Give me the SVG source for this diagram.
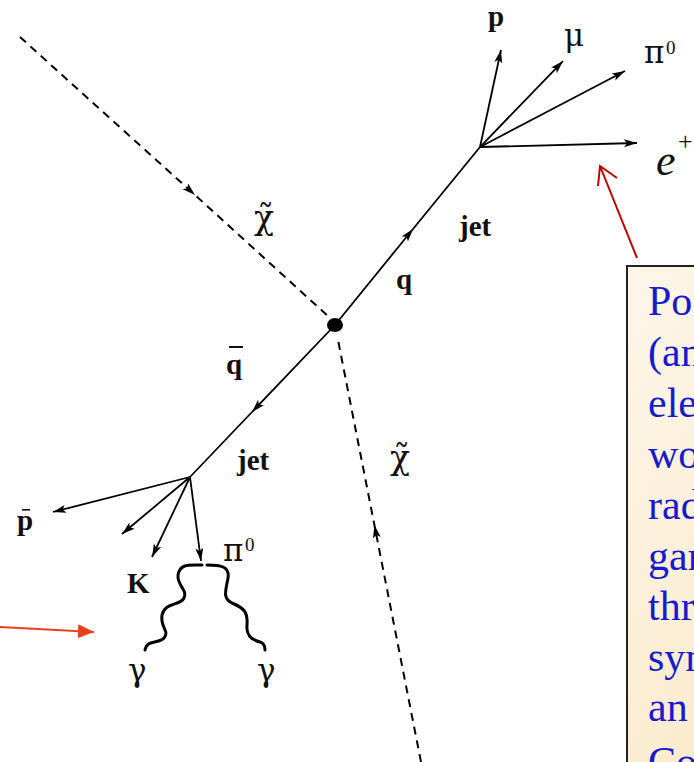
<svg xmlns="http://www.w3.org/2000/svg" width="694" height="762" viewBox="0 0 694 762">
<defs>
<marker id="ah" markerUnits="userSpaceOnUse" markerWidth="14" markerHeight="10" refX="13" refY="4" orient="auto">
<path d="M0,0 L13,4 L0,8 L3,4 z" fill="#000"/>
</marker>
<marker id="ahr" markerUnits="userSpaceOnUse" markerWidth="18" markerHeight="16" refX="16" refY="7" orient="auto">
<path d="M0,0 L16,7 L0,14 z" fill="#e8401c"/>
</marker>
<linearGradient id="bg" x1="0" y1="0" x2="0.3" y2="1">
<stop offset="0" stop-color="#fdf6ea"/>
<stop offset="1" stop-color="#fbeccf"/>
</linearGradient>
<clipPath id="cv"><rect x="0" y="0" width="694" height="762"/></clipPath>
</defs>
<style>
.ln{stroke:#000;stroke-width:1.8;fill:none}
.ds{stroke:#000;stroke-width:2;fill:none;stroke-dasharray:8 6}
.wv{stroke:#000;stroke-width:3;fill:none;stroke-linecap:round}
.lb{font-family:"Liberation Serif",serif;font-size:29px;fill:#111}
.gk{font-family:"DejaVu Serif",serif;font-size:31px;fill:#111}
.bd{font-weight:bold}
.bx{font-family:"Liberation Serif",serif;font-size:42px;fill:#1a1acd}
</style>
<rect width="694" height="762" fill="#fff"/>
<g id="connectors">
<path class="ds" d="M20,37 L195,195 L329,317" marker-mid="url(#ah)"/>
<path class="ds" d="M421,762 L374.4,525 L338,340" marker-mid="url(#ah)"/>
<path class="ln" d="M335,325 L413,229 L480,147" marker-mid="url(#ah)"/>
<path class="ln" d="M335,325 L252,412 L190,477" marker-mid="url(#ah)"/>
<path class="ln" d="M480,147 L501,50" marker-end="url(#ah)"/>
<path class="ln" d="M480,147 L563,61" marker-end="url(#ah)"/>
<path class="ln" d="M480,147 L625,71" marker-end="url(#ah)"/>
<path class="ln" d="M480,147 L637,143" marker-end="url(#ah)"/>
<path class="ln" d="M190,477 L53,512" marker-end="url(#ah)"/>
<path class="ln" d="M190,477 L122,534" marker-end="url(#ah)"/>
<path class="ln" d="M190,477 L152,557" marker-end="url(#ah)"/>
<path class="ln" d="M190,477 L201,561" marker-end="url(#ah)"/>
<path class="wv" d="M202,565 C190,565 180,563 178,575 C177,586 188,590 184,598 C180,606 165,602 162,615 C160,628 170,631 164,638 C159,644 147,639 145,650"/>
<path class="wv" d="M207,565 C220,565 230,566 228,578 C226,590 222,598 232,603 C244,608 248,612 247,625 C246,636 252,640 260,642 C264,643 265,646 265,650"/>
<path d="M0,627 L94,632" stroke="#e8401c" stroke-width="2" fill="none" marker-end="url(#ahr)"/>
<path d="M637,258 L600,166 M598,186 L600,166 L617,178" stroke="#c00000" stroke-width="2" fill="none"/>
</g>
<g id="vertex"><ellipse cx="335" cy="325" rx="8" ry="7" fill="#000"/></g>
<g id="labels">
<text class="lb bd" x="488" y="26">p</text>
<text class="gk" x="564" y="46">μ</text>
<text class="gk" x="644" y="63">π</text>
<text class="lb" x="666" y="54" style="font-size:19px">0</text>
<text class="lb" x="656" y="175" style="font-style:italic;font-size:44px">e</text>
<text class="lb" x="678" y="150" style="font-size:26px">+</text>
<text class="lb bd" x="459" y="236">jet</text>
<text class="lb bd" x="396" y="289">q</text>
<text class="gk" x="254" y="229" style="font-size:33px">χ̃</text>
<text class="gk" x="390" y="469" style="font-size:33px">χ̃</text>
<text class="lb bd" x="226" y="374">q</text>
<rect x="229" y="346" width="14" height="2" fill="#111"/>
<text class="lb bd" x="237" y="470">jet</text>
<text class="lb bd" x="17" y="530">p</text>
<rect x="22" y="509" width="8" height="1.6" fill="#111"/>
<text class="lb bd" x="127" y="593">K</text>
<text class="gk" x="223" y="561">π</text>
<text class="lb" x="245" y="551" style="font-size:19px">0</text>
<text class="gk" x="128" y="681">γ</text>
<text class="gk" x="257" y="681">γ</text>
</g>
<g id="note" clip-path="url(#cv)">
<rect x="627" y="266" width="100" height="520" fill="url(#bg)" stroke="#222" stroke-width="2"/>
<text class="bx" x="648" y="315">Po</text>
<text class="bx" x="648" y="366">(an</text>
<text class="bx" x="648" y="417">ele</text>
<text class="bx" x="648" y="468">wo</text>
<text class="bx" x="648" y="519">rad</text>
<text class="bx" x="648" y="570">gam</text>
<text class="bx" x="648" y="620">thr</text>
<text class="bx" x="648" y="671">syn</text>
<text class="bx" x="648" y="721">an</text>
<text class="bx" x="648" y="776">Co</text>
</g>
</svg>
